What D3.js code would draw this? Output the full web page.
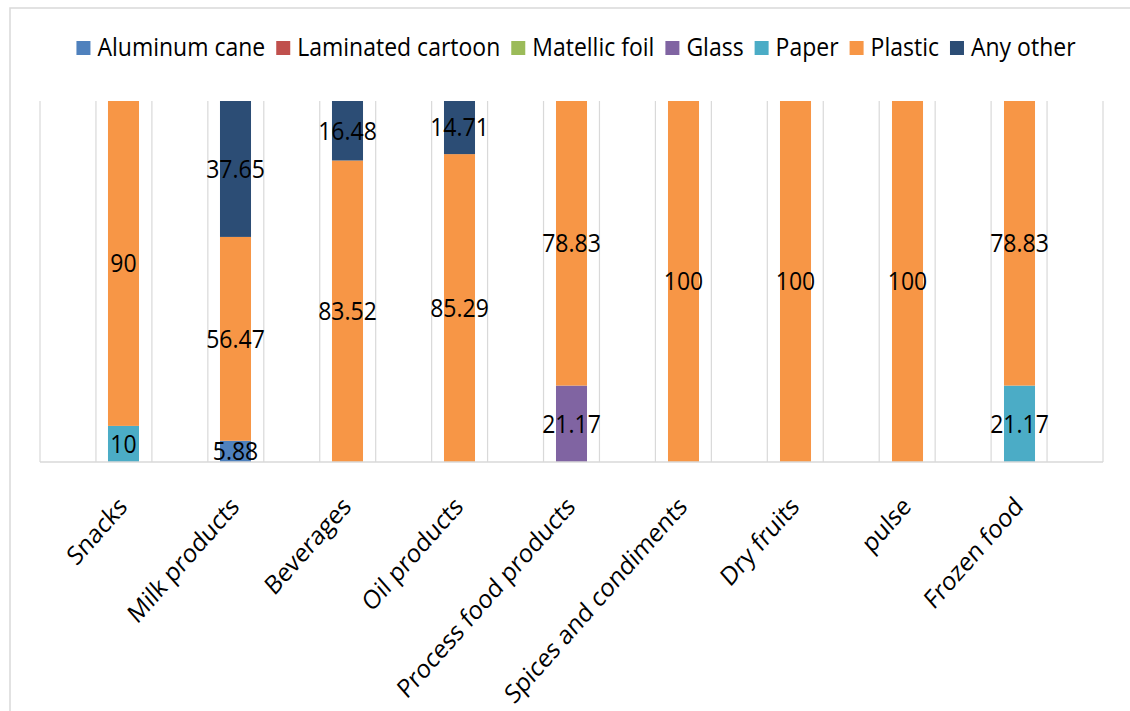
<!DOCTYPE html>
<html>
<head>
<meta charset="utf-8">
<script src="https://cdn.jsdelivr.net/npm/d3@7"></script>
<style>
    html, body {margin: 0; padding: 0; background: #fff;}
    svg {display: block;}
    text {font-family: "Open Sans", "Noto Sans", sans-serif; fill: #000;}
</style>
</head>
<body>
<div id="chart"></div>
<script>

var categories = [
    "Snacks",
    "Milk products",
    "Beverages",
    "Oil products",
    "Process food products",
    "Spices and condiments",
    "Dry fruits",
    "pulse",
    "Frozen food"
];

var seriesNames = ["Aluminum cane", "Laminated cartoon", "Matellic foil", "Glass", "Paper", "Plastic", "Any other"];

var colors = ["#4f81bd", "#c0504d", "#9bbb59", "#8064a2", "#4bacc6", "#f79646", "#2c4d75"];

// one array per series, same order as categories
var aluminum   = [0, 5.88, 0, 0, 0, 0, 0, 0, 0];
var laminated  = [0, 0, 0, 0, 0, 0, 0, 0, 0];
var matellic   = [0, 0, 0, 0, 0, 0, 0, 0, 0];
var glass      = [0, 0, 0, 0, 21.17, 0, 0, 0, 0];
var paper      = [10, 0, 0, 0, 0, 0, 0, 0, 21.17];
var plastic    = [90, 56.47, 83.52, 85.29, 78.83, 100, 100, 100, 78.83];
var anyOther   = [0, 37.65, 16.48, 14.71, 0, 0, 0, 0, 0];

var seriesValues = [aluminum, laminated, matellic, glass, paper, plastic, anyOther];

var W = 1130, H = 711;

// the text in the picture is a little taller than wide
var stretch = "scale(1,1.09)";
var stretchAxis = "scale(1,1.13)";

var svg = d3.select("#chart")
    .append("svg")
    .attr("width", W)
    .attr("height", H);

// chart border (runs off the picture at right and bottom)
svg.append("rect")
    .attr("x", 10)
    .attr("y", 8)
    .attr("width", W + 20)
    .attr("height", H + 20)
    .attr("fill", "none")
    .attr("stroke", "#d9d9d9")
    .attr("stroke-width", 1.5);

var margin = {top: 101, left: 40, right: 27, bottom: 249}
    , width = W - margin.left - margin.right
    , height = H - margin.top - margin.bottom
    , g = svg.append("g").attr("transform", "translate(" + margin.left + "," + margin.top + ")");

var x = d3.scaleBand()
    .domain(categories)
    .range([0, width])
    .paddingInner(0.723)
    .paddingOuter(0.607);

var y = d3.scaleLinear()
    .domain([0, 100])
    .range([height, 0]);

// vertical gridlines, twice per category
var gx = d3.scaleLinear()
    .domain([0, 19])
    .range([0, width]);

g.append("g")
    .attr("class", "grid")
    .selectAll("line")
    .data(d3.range(20))
    .enter()
    .append("line")
    .attr("x1", d => gx(d))
    .attr("x2", d => gx(d))
    .attr("y1", 0)
    .attr("y2", height)
    .attr("stroke", "#d9d9d9")
    .attr("stroke-width", 1.2);

var table = categories.map(function(c, i) {
    var row = {cat: c};
    seriesNames.forEach(function(s, j) { row[s] = seriesValues[j][i]; });
    return row;
});

var stacked = d3.stack().keys(seriesNames)(table);

var layers = g.append("g")
    .attr("class", "bars")
    .selectAll("g")
    .data(stacked)
    .enter()
    .append("g")
    .attr("fill", (d, i) => colors[i]);

layers.selectAll("rect")
    .data(d => d.filter(p => p[1] - p[0] > 0))
    .enter()
    .append("rect")
    .attr("x", d => x(d.data.cat))
    .attr("width", x.bandwidth())
    .attr("y", d => y(d[1]))
    .attr("height", d => y(d[0]) - y(d[1]));

// x axis baseline
g.append("line")
    .attr("x1", 0)
    .attr("x2", width)
    .attr("y1", height)
    .attr("y2", height)
    .attr("stroke", "#d9d9d9")
    .attr("stroke-width", 1.5);

// data labels
var fmt = function(v) { return String(+v.toFixed(2)); };

g.append("g")
    .attr("class", "labels")
    .selectAll("g")
    .data(stacked)
    .enter()
    .append("g")
    .selectAll("text")
    .data(d => d.filter(p => p[1] - p[0] > 0))
    .enter()
    .append("text")
    .attr("transform", d => "translate(" + (x(d.data.cat) + x.bandwidth() / 2) + "," + y((d[0] + d[1]) / 2) + ") " + stretch)
    .attr("dy", "0.35em")
    .attr("text-anchor", "middle")
    .style("font-size", "23px")
    .text(d => fmt(d[1] - d[0]));

// category labels, rotated
g.append("g")
    .attr("class", "axis axis--x")
    .selectAll("text")
    .data(categories)
    .enter()
    .append("text")
    .attr("transform", d => "translate(" + (x(d) + x.bandwidth() / 2 + 5) + "," + (height + 46) + ") " + stretchAxis + " rotate(-45)")
    .attr("text-anchor", "end")
    .style("font-size", "23px")
    .text(d => d);

// legend
var legend = svg.append("g").attr("class", "legend");

var items = legend.selectAll("g")
    .data(seriesNames)
    .enter()
    .append("g");

items.append("rect")
    .attr("width", 14)
    .attr("height", 14)
    .attr("y", 41)
    .attr("fill", (d, i) => colors[i]);

items.append("text")
    .attr("transform", "translate(21,55.5) " + stretch)
    .style("font-size", "23px")
    .text(d => d);

var offs = 0;
items.each(function() {
    var item = d3.select(this);
    var tw = item.select("text").node().getComputedTextLength();
    item.attr("transform", "translate(" + offs + ",0)");
    offs += 21 + tw + 11;
});
var total = offs - 11;
legend.attr("transform", "translate(" + (576 - total / 2) + ",0)");

</script>
</body>
</html>
